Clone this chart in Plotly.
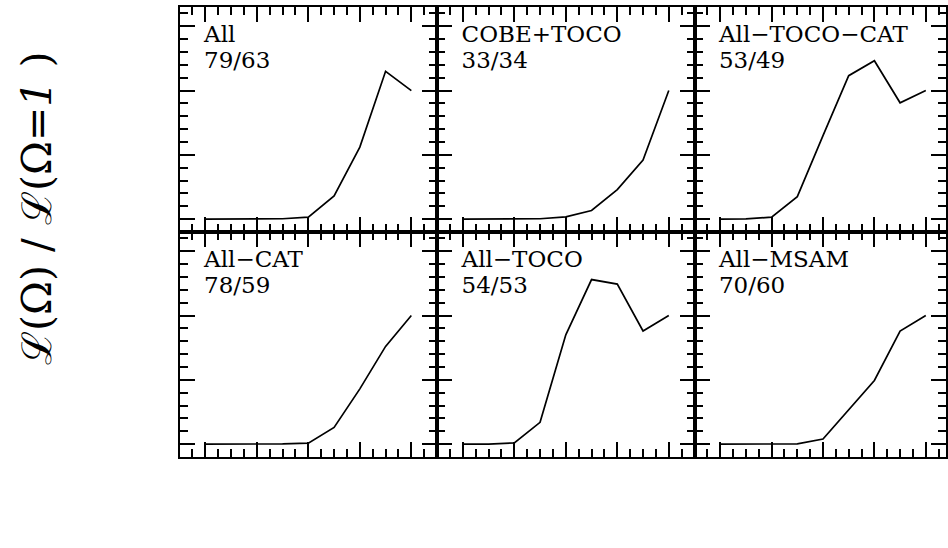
import plotly.graph_objects as go

# ---- data ----
omega = [0.2, 0.3, 0.4, 0.5, 0.6, 0.7, 0.8, 0.9, 1.0]
like_all = [0.0, 0.0, 0.0, 0.003, 0.015, 0.18, 0.56, 1.15, 1.0]
like_cobe_toco = [0.0, 0.0, 0.0, 0.003, 0.018, 0.067, 0.23, 0.46, 1.0]
like_all_toco_cat = [0.0, 0.002, 0.015, 0.175, 0.65, 1.116, 1.232, 0.905, 1.0]
like_all_cat = [0.0, 0.0, 0.0, 0.002, 0.008, 0.13, 0.43, 0.76, 1.0]
like_all_toco = [0.0, 0.0, 0.01, 0.17, 0.85, 1.28, 1.245, 0.88, 1.0]
like_all_msam = [0.0, 0.0, 0.0, 0.002, 0.04, 0.27, 0.495, 0.88, 1.0]

panel_names = ["All", "COBE+TOCO", "All\u2212TOCO\u2212CAT",
               "All\u2212CAT", "All\u2212TOCO", "All\u2212MSAM"]
panel_counts = ["79/63", "33/34", "53/49", "78/59", "54/53", "70/60"]
panel_series = [like_all, like_cobe_toco, like_all_toco_cat,
                like_all_cat, like_all_toco, like_all_msam]

x_tick_vals = [0.2, 0.4, 0.6, 0.8, 1.0]
x_tick_text = ["0.2", "0.4", "0.6", "0.8", "1"]
y_tick_vals = [0.0, 0.5, 1.0, 1.5]
y_tick_text = ["0", "0.5", "1", "1.5"]

# ---- layout geometry ----
W, H = 948, 548
col_px = [(180, 438), (438, 696), (696, 948)]
row_px = [(7, 232), (232, 457)]
x_ranges = [[0.1, 1.1], [0.1, 1.1], [0.1, 1.0787]]
y_range = [-0.1, 1.65]
label_x = 0.195
label_y = [1.42, 1.22]
xlab_y = -0.309      # tick-label row below the bottom panels (data units)
ylab_x = 0.046       # tick-label column left of the left panels (data units)
omega_pos = (0.6, -0.637)

tick_font = dict(family="DejaVu Sans", size=20, color="black")
label_font = dict(family="DejaVu Serif", size=23, color="black")

# hide the axes' own labels (replaced by text marks in the right font)
blank_x = {t: " " for t in x_tick_text}
blank_y = {t: " " for t in y_tick_text}

fig = go.Figure()
layout = dict(width=W, height=H, margin=dict(l=0, r=0, t=0, b=0),
              paper_bgcolor="white", plot_bgcolor="white", showlegend=False)

for i in range(6):
    r, c = divmod(i, 3)
    n = i + 1
    xa = "x" if n == 1 else f"x{n}"
    ya = "y" if n == 1 else f"y{n}"
    fig.add_trace(go.Scatter(x=omega, y=panel_series[i], mode="lines",
                             line=dict(color="black", width=1.7),
                             xaxis=xa, yaxis=ya, hoverinfo="skip"))
    fig.add_trace(go.Scatter(x=[label_x, label_x], y=label_y,
                             text=[panel_names[i], panel_counts[i]],
                             mode="text", textposition="middle right",
                             textfont=label_font, xaxis=xa, yaxis=ya,
                             hoverinfo="skip"))
    if r == 1:
        fig.add_trace(go.Scatter(x=x_tick_vals, y=[xlab_y] * len(x_tick_vals),
                                 text=x_tick_text, mode="text",
                                 textposition="middle center", textfont=tick_font,
                                 cliponaxis=False, xaxis=xa, yaxis=ya,
                                 hoverinfo="skip"))
    if c == 0:
        fig.add_trace(go.Scatter(x=[ylab_x] * len(y_tick_vals), y=y_tick_vals,
                                 text=y_tick_text, mode="text",
                                 textposition="middle left", textfont=tick_font,
                                 cliponaxis=False, xaxis=xa, yaxis=ya,
                                 hoverinfo="skip"))
    if i == 4:
        fig.add_trace(go.Scatter(x=[omega_pos[0]], y=[omega_pos[1]], text=["\u03a9"],
                                 mode="text", textposition="middle center",
                                 textfont=dict(family="DejaVu Serif", size=34,
                                               color="black"),
                                 cliponaxis=False, xaxis=xa, yaxis=ya,
                                 hoverinfo="skip"))

    x0, x1 = col_px[c]
    ytop, ybot = row_px[r]
    xkey = "xaxis" if n == 1 else f"xaxis{n}"
    ykey = "yaxis" if n == 1 else f"yaxis{n}"
    base = dict(showgrid=False, zeroline=False, showline=True, linecolor="black",
                linewidth=2, ticks="inside", ticklen=15, tickwidth=1.5,
                tickcolor="black", mirror="allticks",
                minor=dict(ticks="inside", ticklen=8, tickcolor="black"))
    layout[xkey] = dict(domain=[x0 / W, x1 / W], range=x_ranges[c], anchor=ya,
                        nticks=6, labelalias=blank_x, **base)
    layout[ykey] = dict(domain=[(H - ybot) / H, (H - ytop) / H], range=y_range,
                        anchor=xa, labelalias=blank_y, **base)

layout["annotations"] = [dict(
    x=37 / W, y=(H - 208) / H, xref="paper", yref="paper",
    text="\u2112(\u03a9) / \u2112(\u03a9=<i>1</i> )", textangle=-90,
    showarrow=False, xanchor="center", yanchor="middle",
    font=dict(family="DejaVu Serif", size=41, color="black"))]

fig.update_layout(**layout)
fig.write_html("out.html", config={"displayModeBar": False},
               post_script="document.body.style.margin='0px';")
